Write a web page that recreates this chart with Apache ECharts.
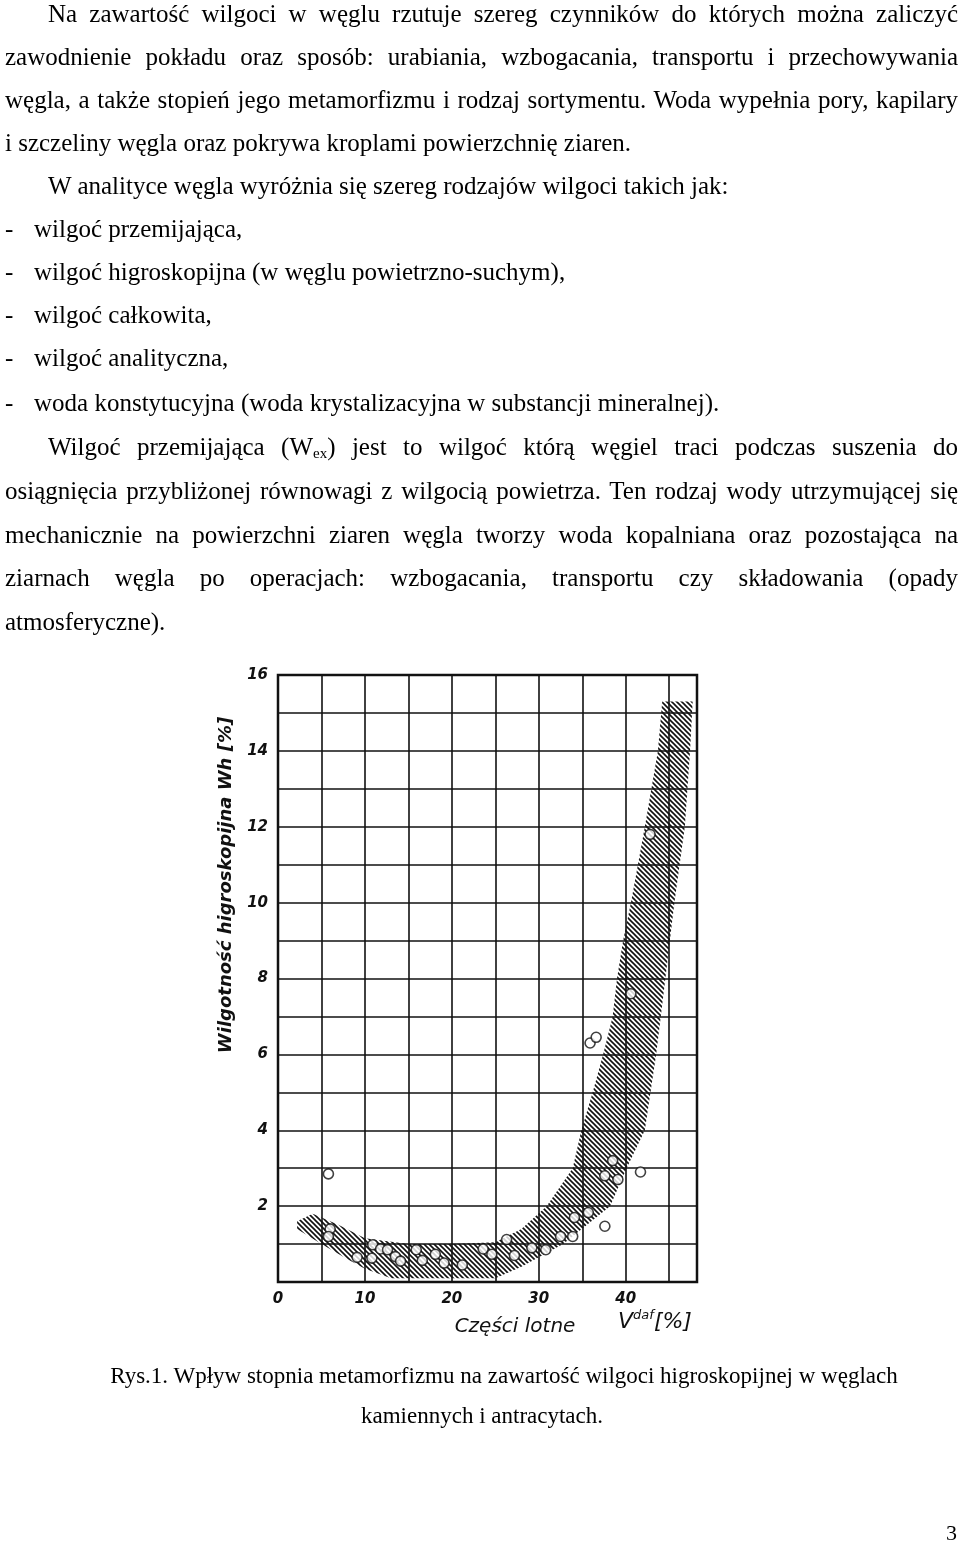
<!DOCTYPE html>
<html><head><meta charset="utf-8">
<script src="https://cdn.jsdelivr.net/npm/echarts@6/dist/echarts.min.js"></script>
<style>
body{margin:0;background:#fff;}
#page{position:relative;width:960px;height:1543px;overflow:hidden;}
#chart{position:absolute;left:0;top:0;width:960px;height:1543px;}
.l{position:absolute;left:5px;width:953px;font-family:"Liberation Serif","Times New Roman",serif;font-size:25px;line-height:26px;color:#000;white-space:nowrap;}
.j{text-align:justify;text-align-last:justify;white-space:normal;}
.ind{left:48px;width:910px;}
.d{left:34px;}
.c{font-size:23px;text-align:center;left:0;}
.dash{position:absolute;left:5px;font-family:"Liberation Serif",serif;font-size:25px;line-height:26px;}
sub{font-size:15px;vertical-align:-3px;line-height:0;}
</style></head><body>
<div id="page">
<div id="chart"></div>
<div class="l j ind" style="top:1px">Na zawartość wilgoci w węglu rzutuje szereg czynników do których można zaliczyć</div>
<div class="l j" style="top:44px">zawodnienie pokładu oraz sposób: urabiania, wzbogacania, transportu i przechowywania</div>
<div class="l j" style="top:87px">węgla, a także stopień jego metamorfizmu i rodzaj sortymentu. Woda wypełnia pory, kapilary</div>
<div class="l" style="top:130px">i szczeliny węgla oraz pokrywa kroplami powierzchnię ziaren.</div>
<div class="l ind" style="top:173px">W analityce węgla wyróżnia się szereg rodzajów wilgoci takich jak:</div>
<div class="dash" style="top:216px">-</div><div class="l d" style="top:216px">wilgoć przemijająca,</div>
<div class="dash" style="top:259px">-</div><div class="l d" style="top:259px">wilgoć higroskopijna (w węglu powietrzno-suchym),</div>
<div class="dash" style="top:302px">-</div><div class="l d" style="top:302px">wilgoć całkowita,</div>
<div class="dash" style="top:345px">-</div><div class="l d" style="top:345px">wilgoć analityczna,</div>
<div class="dash" style="top:390px">-</div><div class="l d" style="top:390px">woda konstytucyjna (woda krystalizacyjna w substancji mineralnej).</div>
<div class="l j ind" style="top:434px">Wilgoć przemijająca (W<sub>ex</sub>) jest to wilgoć którą węgiel traci podczas suszenia do</div>
<div class="l j" style="top:478px">osiągnięcia przybliżonej równowagi z wilgocią powietrza. Ten rodzaj wody utrzymującej się</div>
<div class="l j" style="top:522px">mechanicznie na powierzchni ziaren węgla tworzy woda kopalniana oraz pozostająca na</div>
<div class="l j" style="top:565px">ziarnach węgla po operacjach: wzbogacania, transportu czy składowania (opady</div>
<div class="l" style="top:609px">atmosferyczne).</div>
<div class="l c" style="top:1363px;width:1008px">Rys.1. Wpływ stopnia metamorfizmu na zawartość wilgoci higroskopijnej w węglach</div>
<div class="l c" style="top:1403px;width:964px">kamiennych i antracytach.</div>
<div class="l" style="top:1520px;left:946px;width:20px;font-size:22px">3</div>
</div>
<script>
var xTicks=[0,10,20,30,40];
var yTicks=[2,4,6,8,10,12,14,16];
var bandUpper=[[2.2,1.6],[4,1.8],[7,1.5],[10,1.15],[15,1.0],[20,1.0],[25,1.05],[28,1.4],[30.9,2],[33.9,3],[34.9,4],[36.2,5],[37.4,6],[38.5,7],[39,8],[39.7,9],[40.6,10],[42.2,12],[43.7,14],[44.2,15.3],[47.7,15.3]];
var bandLower=[[2.2,1.4],[5,1.0],[8,0.6],[10,0.35],[13,0.1],[25,0.1],[28,0.4],[32.8,1],[38.2,2],[40.1,3],[42.2,4],[43.5,6],[44.3,7.5],[45.6,10],[46.8,12],[47.4,14],[47.7,15.3]];
var points=[[5.8,2.85],[6.0,1.4],[5.8,1.2],[9.1,0.65],[10.9,0.98],[10.8,0.63],[11.8,0.87],[12.6,0.85],[13.5,0.67],[14.1,0.55],[15.9,0.85],[16.6,0.57],[18.1,0.73],[19.1,0.5],[21.2,0.45],[23.6,0.87],[24.6,0.73],[26.3,1.12],[27.2,0.7],[29.2,0.9],[30.8,0.85],[32.5,1.2],[33.9,1.2],[34.1,1.7],[35.7,1.83],[37.6,1.47],[37.6,2.8],[38.5,3.2],[39.1,2.7],[41.7,2.9],[35.9,6.3],[36.6,6.45],[42.8,11.8],[40.6,7.6]];
var poly=bandUpper.concat(bandLower.slice().reverse());

var pc=document.createElement('canvas');pc.width=5;pc.height=5;
var g=pc.getContext('2d');g.strokeStyle='#111';g.lineWidth=1.6;
g.beginPath();g.moveTo(-1,-1);g.lineTo(6,6);g.moveTo(-1,4);g.lineTo(1,6);g.moveTo(4,-1);g.lineTo(6,1);g.stroke();

var fnt='"DejaVu Sans",sans-serif';
var chart=echarts.init(document.getElementById('chart'));
chart.setOption({
 animation:false,
 grid:{left:278,top:675,width:419,height:607},
 xAxis:{type:'value',min:0,max:48.2,interval:5,
  axisLine:{show:false},axisTick:{show:false},
  splitLine:{show:true,lineStyle:{color:'#111',width:1.6}},
  axisLabel:{margin:10,color:'#111',fontFamily:fnt,fontStyle:'italic',fontWeight:'bold',fontSize:15,
   formatter:function(v){return xTicks.indexOf(v)>=0?String(v):'';},showMaxLabel:false}},
 yAxis:{type:'value',min:0,max:16,interval:1,
  axisLine:{show:false},axisTick:{show:false},
  splitLine:{show:true,lineStyle:{color:'#111',width:1.6}},
  axisLabel:{margin:10,color:'#111',fontFamily:fnt,fontStyle:'italic',fontWeight:'bold',fontSize:15,
   formatter:function(v){return yTicks.indexOf(v)>=0?String(v):'';}}},
 graphic:[
  {type:'rect',shape:{x:278,y:675,width:419,height:607},style:{fill:'none',stroke:'#111',lineWidth:2.5},z:100},
  {type:'text',x:226,y:885,rotation:Math.PI/2,style:{text:'Wilgotność higroskopijna Wh [%]',font:'italic bold 18px '+fnt,fill:'#111',align:'center',verticalAlign:'middle'}},
  {type:'text',x:515,y:1327,style:{text:'Części lotne',font:'italic 20px '+fnt,fill:'#111',align:'center',verticalAlign:'middle'}},
  {type:'text',x:655,y:1322,style:{text:'V{s|daf}[%]',rich:{s:{fontSize:13,verticalAlign:'top',fontStyle:'italic',fontFamily:fnt,padding:[0,0,12,0]}},font:'italic 22px '+fnt,fill:'#111',align:'center',verticalAlign:'middle'}}
 ],
 series:[
  {type:'custom',data:[0],z:2,renderItem:function(params,api){
    var pts=poly.map(function(p){return api.coord(p);});
    return {type:'polygon',shape:{points:pts},style:{fill:{image:pc,repeat:'repeat'},stroke:null}};
  }},
  {type:'scatter',data:points,symbol:'circle',symbolSize:10,z:5,
   itemStyle:{color:'#fff',borderColor:'#111',borderWidth:1.6}}
 ]
});
</script>
</body></html>
